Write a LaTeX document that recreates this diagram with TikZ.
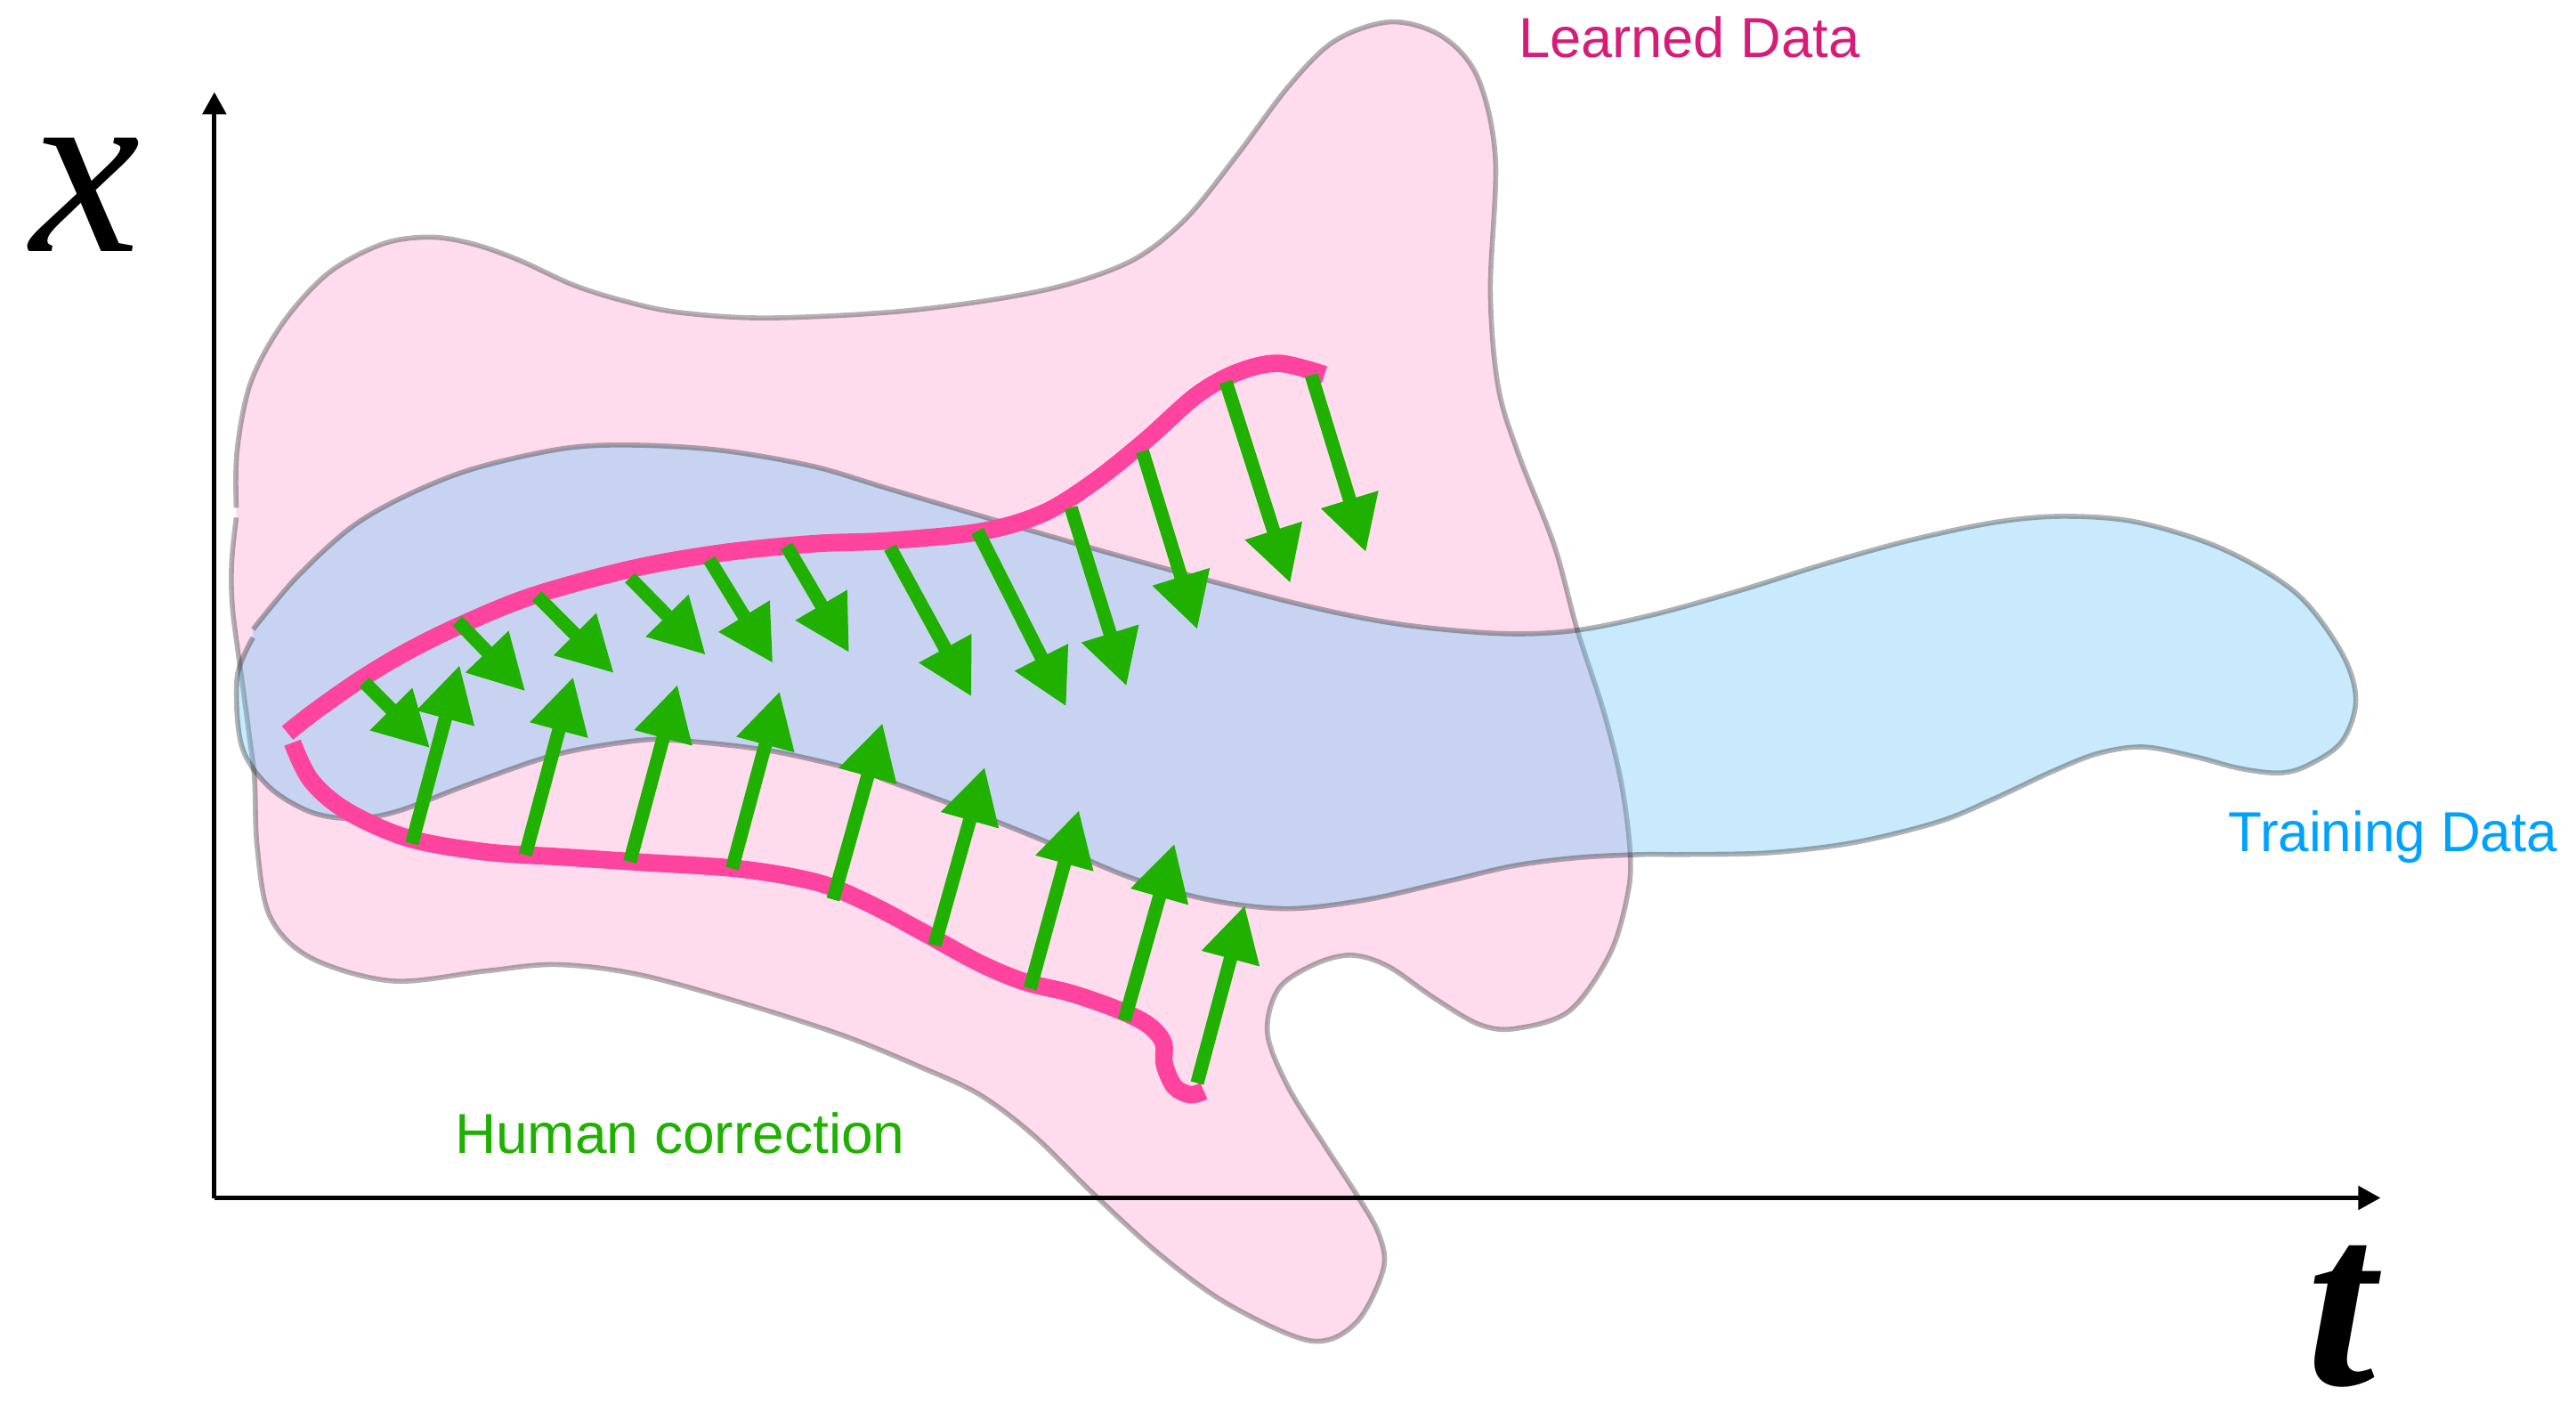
\documentclass[tikz,border=0pt]{standalone}
\usepackage{fontspec}
\setmainfont{Liberation Serif}
\newfontfamily\labelfont{Liberation Sans}
\usetikzlibrary{arrows.meta}
\definecolor{blobpink}{RGB}{254,220,237}
\definecolor{blobblue}{RGB}{95,194,246}
\definecolor{trajpink}{RGB}{255,68,160}
\definecolor{corrgreen}{RGB}{31,176,0}
\definecolor{learnedtxt}{RGB}{214,28,120}
\definecolor{traintxt}{RGB}{0,162,255}
\begin{document}
\begin{tikzpicture}[x=0.018457cm,y=-0.018457cm,
  outline/.style={draw=black, draw opacity=0.3, line width=1.6pt, line join=round},
  traj/.style={draw=trajpink, line width=5.6pt},
  corr/.style={draw=corrgreen, line width=4.3pt, -{Triangle[length=0.62cm,width=0.63cm]}},
  axisline/.style={draw=black, line width=1.5pt, -{Triangle[length=0.25cm,width=0.26cm]}},
  lbl/.style={anchor=base west, inner sep=0pt, font=\labelfont\fontsize{18}{22}\selectfont},
  axlbl/.style={anchor=base, inner sep=0pt}]
\useasboundingbox (0,0) rectangle (1568,859);

% Learned data blob
\path[fill=blobpink, outline] plot[smooth, tension=0.55] coordinates {
(143.8,315) (141,343) (141.6,371) (147,412) (152.6,454) (155,475) (156.6,516)
(164.4,558) (189.3,583) (239,597) (295,591) (338.5,587) (388.3,593) (450.5,610)
(512.7,630) (559.4,649) (596,666) (629.2,691) (665,726) (706.6,764) (748,794)
(797.8,816) (825.4,805) (842,772.5) (839.2,750.8) (825.4,726.4) (806,696.6)
(784,661.3) (771.5,628.7) (778.4,601.6) (800.5,586.7) (822.6,581.3) (844.8,588)
(872.4,607) (900,623.3) (922.2,626) (955.3,615.2) (980.2,580) (991.2,541.9)
(992,515) (986.6,475) (976.3,433.4) (960,383) (946,331.7) (924.3,276.4)
(911.9,235) (907.2,177) (910.3,96.7) (899.4,47) (877.7,22.1) (846.6,13.3)
(812.4,24.9) (784.4,52.5) (753.3,94) (722.2,132.7) (691,157.5) (650.7,172.8)
(604,182.4) (541.8,190) (465,193.5) (412.4,190) (379.3,183) (348.9,173.4)
(315.7,158.2) (288,148.5) (261.8,144.3) (232.8,148.5) (199.6,166.4) (172,196.8)
(152.6,232.8) (144.3,274.2) (143.8,309)};

% Training data blob
\path[fill=blobblue, fill opacity=0.343, outline] plot[smooth, tension=0.55] coordinates {
(154,388) (144.3,412.4) (147.1,453.9) (163.7,478.8) (188.6,494) (213.4,498.1)
(241.1,494) (285.3,477.4) (337.8,459.4) (384.8,451.1) (412.4,450.6) (467.7,456.7)
(523,469.1) (541.8,475.7) (590.2,493.6) (638.6,513) (687,533.7) (735.3,547.5)
(783.7,553) (832.1,547.5) (880.5,536.5) (921,527) (960,522) (1000,520)
(1024.7,520) (1076.5,519) (1128.3,512.8) (1180.1,500.1) (1214.7,485.7)
(1249.2,469.5) (1276.9,458.6) (1304.5,454.6) (1335.6,460.4) (1363.2,467.6)
(1387.4,470.4) (1404.7,465.8) (1425.4,451.4) (1434,426.1) (1425.4,397.3)
(1397.8,361.1) (1352.9,334.1) (1301,317.8) (1256,314.2) (1214.7,317.8)
(1162.9,328.7) (1111,343.1) (1059.2,359.3) (1007.4,373.8) (960,383.5)
(915,385.6) (852.8,380) (790.6,367.6) (697.3,342.7) (619.6,320.6) (541.8,297.7)
(495.4,283.9) (440.1,274.2) (387.6,270.9) (343.3,272.9) (288,285.3)
(246.6,301.9) (213.4,321.2) (180.3,351.6) (154,383)};

% trajectories
\draw[traj] plot[smooth, tension=0.55] coordinates {
(175,446) (191.3,433.2) (219,413.8) (246.6,397.2) (279.8,380.7) (324,362.7)
(384.8,346.1) (440.1,336.4) (495.4,330.9) (541.8,329) (597.8,323.4)
(635.1,312.3) (666.2,293) (697.3,268.1) (728.4,240.5) (753.3,226.6)
(778.2,221.1) (806.2,228)};
\draw[traj] plot[smooth, tension=0.55] coordinates {
(178,452) (189.3,474.9) (211,493.5) (248.4,510.1) (295,518.4) (341.6,521.5)
(388.3,524.6) (450.5,528.8) (497.2,537) (528.2,549.5) (559.4,566) (596,586)
(623.6,597.5) (651.3,604.3) (678.9,613.8) (698.3,623.3) (708,634.2)
(708.8,647.7) (714.9,661.3) (724.5,666.2) (732.8,664)};

% human corrections
\foreach \ax/\ay/\bx/\by in {
221.7/415.2/261.8/455.3, 278.4/377.9/319.8/420.7, 326.8/362.7/373.7/409.7,
383.4/351.6/429.6/398.6, 431.8/340.6/470.5/403.6, 478.8/332.3/516.9/397.2,
541.8/333.3/591.4/424, 595/323.1/649/430, 651.9/309/685.7/417.6,
695.4/274.7/728.8/383.1, 746.2/232.4/785.4/354.9, 798.2/228.3/831.4/336.1,
250.7/513.3/279.8/404.7, 319.8/520.2/348.9/411.9, 383.4/524.4/412.4/416.6,
445.6/528.5/474.6/420.7, 507.1/547.4/537.2/440, 568.9/575.2/599.4/466.8,
627/601.6/656.8/493, 684.4/621.1/714.9/513.4, 728.7/659.1/757.7/550.9}
  \draw[corr] (\ax,\ay) -- (\bx,\by);

% axes
\coordinate (O) at (130.5,729);
\coordinate (ytip) at (130.5,56);
\coordinate (xtip) at (1449,729);
\draw[axisline] (O) -- (ytip);
\draw[axisline] (O) -- (xtip);

\node[axlbl, font=\fontsize{79}{80}\selectfont\itshape] (xlab) at (52,153) {x};
\node[axlbl, font=\fontsize{79}{80}\selectfont\bfseries\itshape] (tlab) at (1425,843) {t};

\node[lbl, text=learnedtxt] (learned) at (924,34.8) {Learned Data};
\node[lbl, text=traintxt] (training) at (1356,518) {\scalebox{0.98}[1]{Training Data}};
\node[lbl, text=corrgreen] (human) at (276.5,701.9) {\scalebox{1.013}[1]{Human correction}};
\end{tikzpicture}
\end{document}
